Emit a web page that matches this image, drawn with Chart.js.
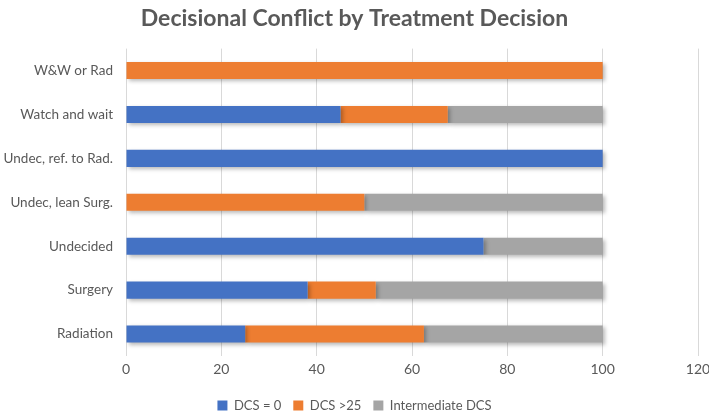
<!DOCTYPE html>
<html>
<head>
<meta charset="utf-8">
<script src="https://cdn.jsdelivr.net/npm/chart.js@4/dist/chart.umd.min.js"></script>
<style>
  html, body { margin: 0; padding: 0; background: #fff; }
  #wrap { width: 709px; height: 412px; }
</style>
</head>
<body>
<div id="wrap"><canvas id="chart_dcs"></canvas></div>
<script>
// -------------------- data
var categories = ['W&W or Rad', 'Watch and wait', 'Undec, ref. to Rad.', 'Undec, lean Surg.', 'Undecided', 'Surgery', 'Radiation'];
var dcsZero = [0, 45, 100, 0, 75, 38.1, 25];
var dcsOver25 = [100, 22.5, 0, 50, 0, 14.3, 37.5];
var dcsIntermediate = [0, 32.5, 0, 50, 25, 47.6, 37.5];
var xTicks = [0, 20, 40, 60, 80, 100, 120];

var txtColor = '#595959';
var fnt = "Lato, 'Open Sans', sans-serif";

// soft shadow under bars, like the office chart
var barShadow = {
	id: 'barShadow',
	beforeDatasetsDraw: function(chart){
		var c = chart.ctx;
		c.save();
		c.shadowColor = 'rgba(0,0,0,0.28)';
		c.shadowBlur = 4;
		c.shadowOffsetX = 2;
		c.shadowOffsetY = 2;
	},
	afterDatasetsDraw: function(chart){
		chart.ctx.restore();
	}
};

function mkSet(label, data, color){
	return {
		label: label,
		data: data,
		backgroundColor: color,
		borderWidth: 0,
		barPercentage: 0.78,
		categoryPercentage: 0.5
	};
}

var ctx = document.getElementById('chart_dcs').getContext('2d');
window.chart_dcs = new Chart(ctx, {
	type: 'bar',
	data: {
		labels: categories,
		datasets: [
			mkSet('DCS = 0', dcsZero, '#4472C4'),
			mkSet('DCS >25', dcsOver25, '#ED7D31'),
			mkSet('Intermediate DCS', dcsIntermediate, '#A5A5A5')
		]
	},
	plugins: [barShadow],
	options: {
		indexAxis: 'y',
		responsive: true,
		maintainAspectRatio: false,
		animation: false,
		layout: { padding: { left: 0, right: 0, top: 5, bottom: -10 } },
		plugins: {
			title: {
				display: true,
				text: 'Decisional Conflict by Treatment Decision',
				color: txtColor,
				font: { family: fnt, size: 23, weight: 'bold' },
				padding: { top: 0, bottom: 16 }
			},
			legend: {
				position: 'bottom',
				labels: {
					color: txtColor,
					font: { family: fnt, size: 13 },
					boxWidth: 10,
					boxHeight: 10,
					padding: 12
				}
			},
			tooltip: { enabled: false }
		},
		scales: {
			x: {
				stacked: true,
				min: 0,
				max: 120,
				afterBuildTicks: function(ax){
					ax.ticks = xTicks.map(function(v){ return { value: v }; });
				},
				grid: { color: '#D9D9D9', drawTicks: false },
				border: { display: false },
				ticks: { color: txtColor, font: { family: fnt, size: 14 }, padding: 5 },
				afterFit: function(ax){ ax.height = 31; ax.paddingRight = 11; ax.paddingLeft = 0; }
			},
			y: {
				stacked: true,
				grid: { display: false, drawTicks: false },
				border: { display: false },
				ticks: { color: txtColor, font: { family: fnt, size: 13.5 }, padding: 13 },
				afterFit: function(ax){ ax.width = 126; }
			}
		}
	}
});
</script>
</body>
</html>
